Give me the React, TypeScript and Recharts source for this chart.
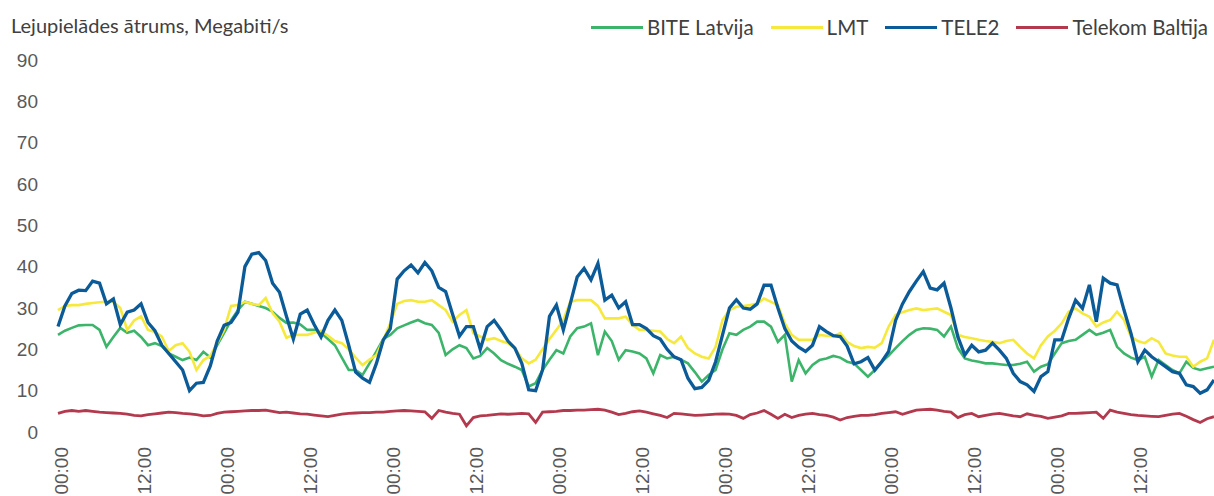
import React from 'react'
import { LineChart, Line, XAxis, YAxis, Legend } from 'recharts'

// hourly measurements over 7 days
const hourLabels = [
  '00:00', '01:00', '02:00', '03:00', '04:00', '05:00', '06:00', '07:00',
  '08:00', '09:00', '10:00', '11:00', '12:00', '13:00', '14:00', '15:00',
  '16:00', '17:00', '18:00', '19:00', '20:00', '21:00', '22:00', '23:00',
]
const yTicks = [0, 10, 20, 30, 40, 50, 60, 70, 80, 90]

const bite = [
  23.5, 24.5, 25.2, 25.8, 25.9, 25.9, 24.7, 20.6, 23, 25.2,
  24, 24.5, 23, 21, 21.5, 20.8, 19, 18.2, 17.4, 18,
  17.4, 19.4, 18, 21, 24, 27, 29.5, 31.5, 31, 30.5,
  30, 29.1, 27.6, 26.4, 26.5, 26, 24.7, 24.7, 24, 22.5,
  21, 18, 15, 15, 13.8, 16.6, 19.5, 22.5, 23.5, 25.1,
  25.8, 26.5, 27.1, 26.3, 25.9, 24, 18.6, 20, 21, 20.3,
  17.8, 18.4, 20.3, 19, 17.4, 16.5, 15.8, 15, 11, 11.8,
  15, 17.5, 19.8, 19, 23.1, 25.1, 25.5, 26.3, 18.6, 24.3,
  22, 17.5, 19.8, 19.5, 19, 17.8, 14.2, 18.6, 17.8, 18.2,
  17.5, 16.6, 14.5, 12.2, 13.8, 15, 20, 23.9, 23.5, 24.7,
  25.5, 26.7, 26.7, 25.5, 21.8, 23.5, 12.2, 17.4, 14.2, 16.2,
  17.4, 17.8, 18.4, 18, 17, 16.6, 15, 13.4, 15, 17,
  18.5, 20.3, 22, 23.5, 24.7, 25.1, 25, 24.7, 23.1, 25.5,
  20.3, 17.8, 17.3, 17, 16.6, 16.6, 16.4, 16.2, 16.2, 16.5,
  17, 14.6, 15.8, 16.4, 19, 21.5, 22, 22.3, 23.5, 24.7,
  23.5, 24, 24.7, 20.6, 19, 18, 17.4, 18.2, 13.4, 17.4,
  16.2, 15, 14.2, 17, 15.5, 15, 15.4, 15.8,
]

const lmt = [
  29.5, 30.5, 30.7, 30.7, 31, 31.2, 31.4, 31.5, 31.5, 30,
  24.7, 27, 28, 24.7, 24.2, 23.1, 19.6, 21, 21.5, 19.4,
  15, 17.4, 18.4, 21.5, 24.7, 30.5, 30.7, 31.5, 31, 30.7,
  32.4, 28.8, 26.7, 22.8, 23.5, 23.5, 23.5, 24, 24.5, 23.3,
  22, 21.5, 20, 18, 16.2, 17.5, 18.6, 22.3, 26.3, 31,
  31.7, 31.9, 31.5, 31.5, 31.9, 30.7, 29.5, 26.7, 28.3, 29.5,
  23.9, 23.1, 22.3, 22.7, 22, 21.5, 20.3, 17.8, 16.6, 17.5,
  20, 22.5, 24.7, 27.1, 31.5, 31.9, 31.9, 31.9, 30.5, 27.5,
  27.5, 27.5, 27.9, 25.9, 24.7, 24.7, 24.5, 24.3, 22.5, 21.5,
  23.1, 20.3, 19, 18.2, 17.8, 20.6, 27.1, 29.5, 30.3, 30.5,
  30.7, 31.1, 32.3, 31.5, 30.7, 26.3, 23.5, 22.3, 22.3, 22.3,
  23.5, 23.3, 23.1, 23.9, 21.8, 20.8, 20.3, 20.6, 20.4, 21.5,
  25.5, 28.3, 29, 29.5, 29.9, 29.5, 29.7, 29.9, 29.1, 28.3,
  23.5, 23, 22.7, 22.3, 22, 21.8, 21.5, 22, 22.3, 20.6,
  19, 17.8, 21, 23.1, 24.5, 26.3, 29.1, 29.9, 28.7, 27.9,
  25.5, 26.5, 27.1, 29.1, 27.1, 23.1, 22, 21.5, 22.7, 21.8,
  19, 18.5, 18.2, 18.2, 15.8, 17, 17.8, 22.3,
]

const tele2 = [
  25.5, 30.5, 33.5, 34.3, 34.2, 36.5, 36, 31, 32.2, 26,
  29, 29.5, 31, 26.5, 24.5, 21, 19, 17, 15, 10,
  11.8, 12, 16, 22, 25.8, 26.5, 29, 40, 43, 43.4,
  41.5, 36, 33.8, 28, 22.5, 28.5, 29.5, 26, 23, 27,
  29.5, 27, 21, 14.5, 13, 12, 16.6, 22.3, 25, 37,
  39, 40.4, 38.5, 41, 39, 35, 34, 28.5, 23.2, 25.5,
  25.5, 20, 25.5, 27, 24.7, 22, 20.3, 16.6, 10.2, 10,
  15, 28, 30.7, 24.7, 31, 37.5, 39.6, 36.8, 40.8, 31.9,
  33.1, 30, 31.5, 26, 26, 25, 23.3, 22.5, 20, 18.2,
  17.5, 13, 10.5, 10.8, 12.5, 17, 23.5, 30, 32, 30,
  29.7, 31, 35.5, 35.5, 30, 25, 22, 20.5, 19.5, 21,
  25.5, 24.3, 23.3, 23.1, 20.8, 16.5, 17, 18, 15, 17,
  19.5, 27, 31, 34, 36.5, 38.8, 34.8, 34.4, 36, 30,
  23, 18.6, 21, 19.4, 19.8, 21.5, 19.8, 17.8, 14.2, 12.2,
  11.4, 9.8, 13.4, 14.6, 22.3, 22.3, 27.5, 31.9, 29.9, 35.6,
  26.7, 37.2, 36, 35.6, 29.5, 23.9, 17, 19.8, 18.2, 17,
  15.8, 14.6, 14.2, 11.4, 11, 9.4, 10.2, 12.6,
]

const telekom = [
  4.5, 5.0, 5.2, 5.0, 5.2, 5.0, 4.8, 4.7, 4.6, 4.5,
  4.3, 4.0, 3.9, 4.2, 4.4, 4.6, 4.8, 4.7, 4.5, 4.4,
  4.2, 3.9, 4.0, 4.5, 4.8, 4.9, 5.0, 5.1, 5.2, 5.2,
  5.3, 5.0, 4.7, 4.8, 4.6, 4.4, 4.3, 4.1, 3.9, 3.7,
  4.0, 4.3, 4.5, 4.6, 4.7, 4.7, 4.8, 4.8, 5.0, 5.1,
  5.2, 5.1, 5.0, 4.9, 3.3, 5.2, 4.8, 4.5, 4.3, 1.5,
  3.5, 3.9, 4.0, 4.2, 4.4, 4.3, 4.4, 4.5, 4.4, 2.3,
  4.8, 4.9, 5.0, 5.2, 5.2, 5.3, 5.3, 5.4, 5.5, 5.3,
  4.8, 4.2, 4.5, 4.9, 5.1, 4.8, 4.4, 4.0, 3.5, 4.5,
  4.4, 4.2, 4.0, 4.1, 4.2, 4.3, 4.4, 4.3, 4.0, 3.3,
  4.2, 4.6, 5.2, 4.3, 3.3, 4.3, 3.5, 4.0, 4.3, 4.5,
  4.2, 4.0, 3.6, 2.9, 3.5, 3.8, 4.0, 4.0, 4.2, 4.5,
  4.7, 4.9, 4.3, 4.8, 5.3, 5.4, 5.5, 5.3, 5.0, 4.8,
  3.5, 4.2, 4.5, 3.7, 4.0, 4.3, 4.5, 4.2, 3.9, 3.7,
  4.4, 4.0, 3.8, 3.3, 3.6, 3.9, 4.5, 4.5, 4.6, 4.7,
  4.8, 3.3, 5.3, 4.8, 4.5, 4.2, 4.0, 3.9, 3.8, 3.7,
  4.0, 4.3, 4.5, 3.8, 3.0, 2.3, 3.2, 3.7,
]

const data = bite.map((v, i) => ({
  time: hourLabels[i % 24],
  bite: v,
  lmt: lmt[i],
  tele2: tele2[i],
  telekom: telekom[i],
}))

const tickFont = '"Liberation Sans", Arial, sans-serif'
const textFont = 'Lato, "Open Sans", sans-serif'

function TimeTick({ x, y, payload }: any) {
  const ty = y + 7
  return (
    <text x={x + 3} y={ty} transform={`rotate(-90, ${x + 3}, ${ty})`} textAnchor="end"
      dominantBaseline="central" fill="#595959" fontSize={19} fontFamily={tickFont}>
      {payload.value}
    </text>
  )
}

function LegendRow({ payload }: any) {
  return (
    <div style={{ display: 'flex', alignItems: 'center', height: 24, fontFamily: textFont, fontSize: 20.5, color: '#404040' }}>
      {payload.map((p: any) => (
        <div key={p.value} style={{ display: 'flex', alignItems: 'center', marginLeft: 17 }}>
          <span style={{ display: 'inline-block', width: 52, height: 3, background: p.color, marginRight: 4 }} />
          <span>{p.value}</span>
        </div>
      ))}
    </div>
  )
}

export default function App() {
  return (
    <div style={{ position: 'absolute', left: 0, top: 0, width: 1214, height: 496, background: '#fff' }}>
      <div style={{ position: 'absolute', left: 11, top: 13, fontFamily: textFont, fontSize: 20, color: '#404040', whiteSpace: 'nowrap' }}>
        Lejupielādes ātrums, Megabiti/s
      </div>
      <LineChart width={1214} height={496} data={data} margin={{ top: 36, right: 0, bottom: 0, left: 0 }}>
        <XAxis dataKey="time" interval={11} axisLine={false} tickLine={false} height={64} tick={<TimeTick />} />
        <YAxis domain={[0, 90]} ticks={yTicks} width={58} axisLine={false} tickLine={false} tickMargin={14}
          tick={{ fill: '#595959', fontSize: 19, fontFamily: tickFont }} />
        <Legend verticalAlign="top" align="right" height={24} content={<LegendRow />}
          wrapperStyle={{ top: 15, right: 6, left: 'auto', width: 'auto' }} />
        <Line dataKey="bite" name="BITE Latvija" stroke="#3cb56b" strokeWidth={2.6} dot={false} isAnimationActive={false} />
        <Line dataKey="lmt" name="LMT" stroke="#f6e93c" strokeWidth={2.6} dot={false} isAnimationActive={false} />
        <Line dataKey="tele2" name="TELE2" stroke="#0b5b98" strokeWidth={3.3} dot={false} isAnimationActive={false} />
        <Line dataKey="telekom" name="Telekom Baltija" stroke="#b33a4e" strokeWidth={2.8} dot={false} isAnimationActive={false} />
      </LineChart>
    </div>
  )
}
